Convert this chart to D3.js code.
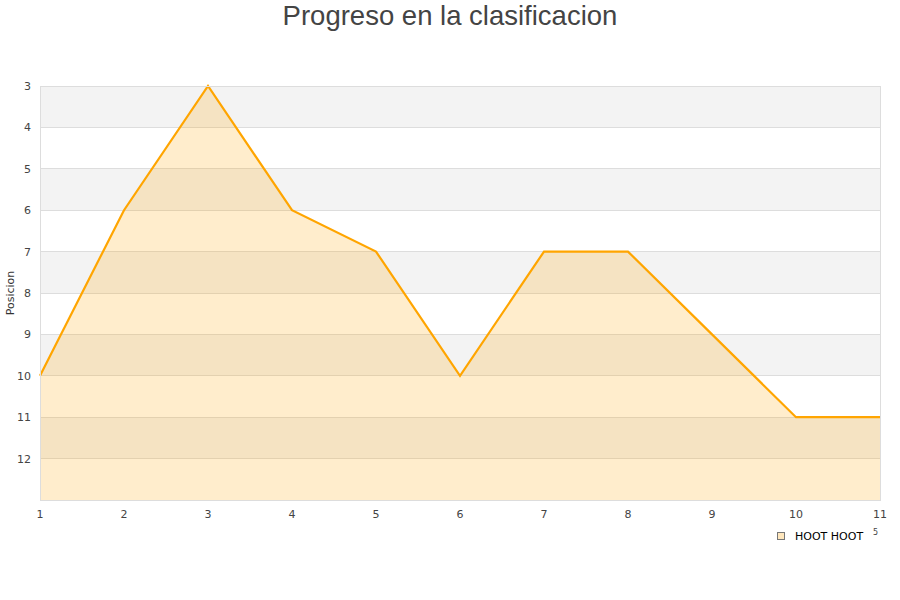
<!DOCTYPE html>
<html><head><meta charset="utf-8">
<script src="https://cdn.jsdelivr.net/npm/d3@7"></script>
<style>body{margin:0;background:#fff}</style>
</head><body>
<svg id="c" width="900" height="600"></svg>
<script>
const rounds = [1,2,3,4,5,6,7,8,9,10,11];
const positions = [10,6,3,6,7,10,7,7,9,11,11];
const yTicks = [3,4,5,6,7,8,9,10,11,12];
const seriesName = "HOOT HOOT";
const title = "Progreso en la clasificacion";
const yLabel = "Posicion";

const svg = d3.select("#c");
const m = {l:40, r:880, t:86, b:500};
const x = d3.scaleLinear().domain([1,11]).range([m.l, m.r]);
const y = d3.scaleLinear().domain([3,13]).range([m.t, m.b]);

// bands
const bands = d3.range(3,13);
svg.selectAll("rect.band").data(bands).enter().append("rect")
  .attr("x", m.l).attr("width", m.r-m.l)
  .attr("y", d=>y(d)).attr("height", d=>y(d+1)-y(d))
  .attr("fill", d=> (d%2===1) ? "#f3f3f3" : "#ffffff");

// grid
svg.selectAll("line.grid").data(d3.range(3,14)).enter().append("line")
  .attr("x1", m.l).attr("x2", m.r).attr("y1", d=>y(d)).attr("y2", d=>y(d))
  .attr("stroke", "#dddddd").attr("stroke-width",1).attr("shape-rendering","crispEdges");

// area
const area = d3.area().x((d,i)=>x(rounds[i])).y0(y(13)).y1(d=>y(d));
svg.append("path").datum(positions).attr("d", area)
  .attr("fill", "rgba(255,165,0,0.2)");
const line = d3.line().x((d,i)=>x(rounds[i])).y(d=>y(d));
svg.append("path").datum(positions).attr("d", line)
  .attr("fill","none").attr("stroke","#ffa500").attr("stroke-width",2.2);

// border
svg.append("rect").attr("x",m.l).attr("y",m.t).attr("width",m.r-m.l).attr("height",m.b-m.t)
  .attr("fill","none").attr("stroke","#dddddd").attr("shape-rendering","crispEdges");

// y ticks
svg.selectAll("text.yt").data(yTicks).enter().append("text")
  .attr("x", 31).attr("y", d=>y(d)+4).attr("text-anchor","end")
  .attr("font-family","DejaVu Sans").attr("font-size",11).attr("fill","#444")
  .text(d=>d);
// x ticks
svg.selectAll("text.xt").data(rounds).enter().append("text")
  .attr("x", d=>x(d)).attr("y", 518).attr("text-anchor","middle")
  .attr("font-family","DejaVu Sans").attr("font-size",11).attr("fill","#444")
  .text(d=>d);

// y label
svg.append("text").attr("transform","translate(14,293) rotate(-90)")
  .attr("text-anchor","middle").attr("font-family","DejaVu Sans").attr("font-size",11).attr("fill","#333")
  .text(yLabel);

// title
svg.append("text").attr("x",450).attr("y",25).attr("text-anchor","middle")
  .attr("font-family","Liberation Sans").attr("font-size",27.5).attr("fill","#444")
  .text(title);

// legend
svg.append("rect").attr("x",777.5).attr("y",532.5).attr("width",7).attr("height",7)
  .attr("fill","#ffe7bd").attr("stroke","#777").attr("stroke-width",1);
svg.append("text").attr("x",795).attr("y",540).attr("font-family","DejaVu Sans").attr("font-size",11).attr("fill","#000")
  .text(seriesName);
svg.append("text").attr("x",873).attr("y",535).attr("font-family","DejaVu Sans").attr("font-size",8).attr("fill","#444")
  .text("5");
</script>
</body></html>
